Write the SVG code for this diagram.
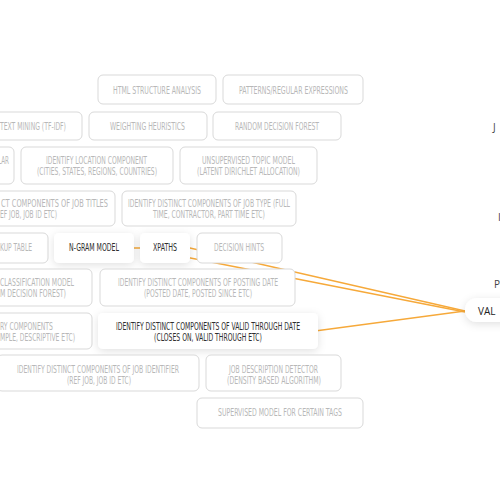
<svg xmlns="http://www.w3.org/2000/svg" width="500" height="500" viewBox="0 0 500 500">
<defs>
<filter id="sh" x="-20%" y="-40%" width="140%" height="200%">
<feDropShadow dx="0" dy="2" stdDeviation="4" flood-color="#000" flood-opacity="0.12"/>
</filter>
<style>
.g rect{fill:#fff;stroke:#d9d9d9;stroke-width:1}
.g text{fill:#b8b8b8}
.w rect{fill:#fff;stroke:none;filter:url(#sh)}
.w text{fill:#2e2e2e}
text{font-family:"Liberation Sans Narrow","DejaVu Sans Condensed","Liberation Sans",sans-serif;font-size:10px;text-anchor:middle}
.e{text-anchor:end}
.edge{fill:none;stroke:#f6a93a;stroke-width:1.3}
.r{font-family:"Open Sans","Liberation Sans",sans-serif;text-anchor:start}
</style>
</defs>
<rect width="500" height="500" fill="#fff"/>
<g id="connectors">
<path class="edge" d="M94,248 L190,248 L465,311"/>
<path class="edge" d="M165,253 L465,312"/>
<path class="edge" d="M300,333 L465,311"/>
</g>
<g id="n-html" class="g"><rect x="98" y="75" width="118" height="29" rx="5"/><text x="157" y="93.5" textLength="88" lengthAdjust="spacingAndGlyphs">HTML STRUCTURE ANALYSIS</text></g>
<g id="n-patterns" class="g"><rect x="223" y="75" width="140" height="29" rx="5"/><text x="293.5" y="93.5" textLength="109" lengthAdjust="spacingAndGlyphs">PATTERNS/REGULAR EXPRESSIONS</text></g>
<g id="n-textmining" class="g"><rect x="-20" y="112" width="102" height="28" rx="5"/><text class="e" x="66" y="129.5" textLength="66" lengthAdjust="spacingAndGlyphs">TEXT MINING (TF-IDF)</text></g>
<g id="n-weighting" class="g"><rect x="89" y="112" width="118" height="28" rx="5"/><text x="147.5" y="129.5" textLength="75" lengthAdjust="spacingAndGlyphs">WEIGHTING HEURISTICS</text></g>
<g id="n-random" class="g"><rect x="213" y="112" width="128" height="28" rx="5"/><text x="277" y="129.5" textLength="84" lengthAdjust="spacingAndGlyphs">RANDOM DECISION FOREST</text></g>
<g id="n-lar" class="g"><rect x="-40" y="147" width="54" height="37" rx="5"/><text class="e" x="9" y="163.5" textLength="11" lengthAdjust="spacingAndGlyphs">LAR</text></g>
<g id="n-location" class="g"><rect x="21" y="147" width="152" height="37" rx="5"/><text x="96.5" y="163.5" textLength="101" lengthAdjust="spacingAndGlyphs">IDENTIFY LOCATION COMPONENT</text><text x="97" y="174.5" textLength="120" lengthAdjust="spacingAndGlyphs">(CITIES, STATES, REGIONS, COUNTRIES)</text></g>
<g id="n-unsupervised" class="g"><rect x="180" y="147" width="137" height="37" rx="5"/><text x="248.5" y="163.5" textLength="93" lengthAdjust="spacingAndGlyphs">UNSUPERVISED TOPIC MODEL</text><text x="248.5" y="174.5" textLength="103" lengthAdjust="spacingAndGlyphs">(LATENT DIRICHLET ALLOCATION)</text></g>
<g id="n-jobtitles" class="g"><rect x="-100" y="191" width="215" height="35" rx="5"/><text class="e" x="108" y="206.5" textLength="107" lengthAdjust="spacingAndGlyphs">CT COMPONENTS OF JOB TITLES</text><text class="e" x="57" y="217.5" textLength="57" lengthAdjust="spacingAndGlyphs">EF JOB, JOB ID ETC)</text></g>
<g id="n-jobtype" class="g"><rect x="122" y="191" width="174" height="35" rx="5"/><text x="209" y="206.5" textLength="162" lengthAdjust="spacingAndGlyphs">IDENTIFY DISTINCT COMPONENTS OF JOB TYPE (FULL</text><text x="209" y="217.5" textLength="112" lengthAdjust="spacingAndGlyphs">TIME, CONTRACTOR, PART TIME ETC)</text></g>
<g id="n-lookup" class="g"><rect x="-30" y="233" width="78" height="30" rx="5"/><text class="e" x="32" y="251" textLength="32" lengthAdjust="spacingAndGlyphs">KUP TABLE</text></g>
<g id="n-ngram" class="w"><rect x="54" y="233" width="80" height="30" rx="5"/><text x="94" y="251" textLength="50" lengthAdjust="spacingAndGlyphs">N-GRAM MODEL</text></g>
<g id="n-xpaths" class="w"><rect x="140" y="233" width="50" height="30" rx="5"/><text x="165" y="251" textLength="24" lengthAdjust="spacingAndGlyphs">XPATHS</text></g>
<g id="n-hints" class="g"><rect x="197" y="233" width="85" height="30" rx="5"/><text x="239" y="251" textLength="50" lengthAdjust="spacingAndGlyphs">DECISION HINTS</text></g>
<g id="n-classification" class="g"><rect x="-50" y="269" width="142" height="37" rx="5"/><text class="e" x="74" y="286" textLength="74" lengthAdjust="spacingAndGlyphs">CLASSIFICATION MODEL</text><text class="e" x="66" y="297" textLength="66" lengthAdjust="spacingAndGlyphs">M DECISION FOREST)</text></g>
<g id="n-posting" class="g"><rect x="100" y="269" width="195" height="37" rx="5"/><text x="198" y="286" textLength="160" lengthAdjust="spacingAndGlyphs">IDENTIFY DISTINCT COMPONENTS OF POSTING DATE</text><text x="198" y="297" textLength="108" lengthAdjust="spacingAndGlyphs">(POSTED DATE, POSTED SINCE ETC)</text></g>
<g id="n-category" class="g"><rect x="-50" y="313" width="142" height="36" rx="5"/><text class="e" x="53" y="329.5" textLength="53" lengthAdjust="spacingAndGlyphs">RY COMPONENTS</text><text class="e" x="75" y="340.5" textLength="75" lengthAdjust="spacingAndGlyphs">MPLE, DESCRIPTIVE ETC)</text></g>
<g id="n-validthrough" class="w"><rect x="98" y="313" width="220" height="36" rx="5"/><text x="208" y="329.5" textLength="184" lengthAdjust="spacingAndGlyphs">IDENTIFY DISTINCT COMPONENTS OF VALID THROUGH DATE</text><text x="208" y="340.5" textLength="108" lengthAdjust="spacingAndGlyphs">(CLOSES ON, VALID THROUGH ETC)</text></g>
<g id="n-jobidentifier" class="g"><rect x="-3" y="355" width="202" height="36" rx="5"/><text x="98" y="372.5" textLength="162" lengthAdjust="spacingAndGlyphs">IDENTIFY DISTINCT COMPONENTS OF JOB IDENTIFIER</text><text x="99" y="383.5" textLength="64" lengthAdjust="spacingAndGlyphs">(REF JOB, JOB ID ETC)</text></g>
<g id="n-jobdesc" class="g"><rect x="206" y="355" width="135" height="36" rx="5"/><text x="273.5" y="372.5" textLength="89" lengthAdjust="spacingAndGlyphs">JOB DESCRIPTION DETECTOR</text><text x="274" y="383.5" textLength="94" lengthAdjust="spacingAndGlyphs">(DENSITY BASED ALGORITHM)</text></g>
<g id="n-supervised" class="g"><rect x="197" y="398" width="166" height="30" rx="5"/><text x="280" y="416" textLength="124" lengthAdjust="spacingAndGlyphs">SUPERVISED MODEL FOR CERTAIN TAGS</text></g>
<g id="n-val"><rect x="465" y="298" width="60" height="24" rx="12" fill="#fff" filter="url(#sh)"/><text class="r" x="478" y="315" font-size="13" fill="#222">VAL</text></g>
<g id="n-j"><text class="r" x="493" y="131" font-size="10" fill="#444">J</text></g>
<g id="n-i"><text class="r" x="498" y="221" font-size="10" fill="#444">I</text></g>
<g id="n-p"><text class="r" x="494" y="288" font-size="10" fill="#444">P</text></g>
</svg>
